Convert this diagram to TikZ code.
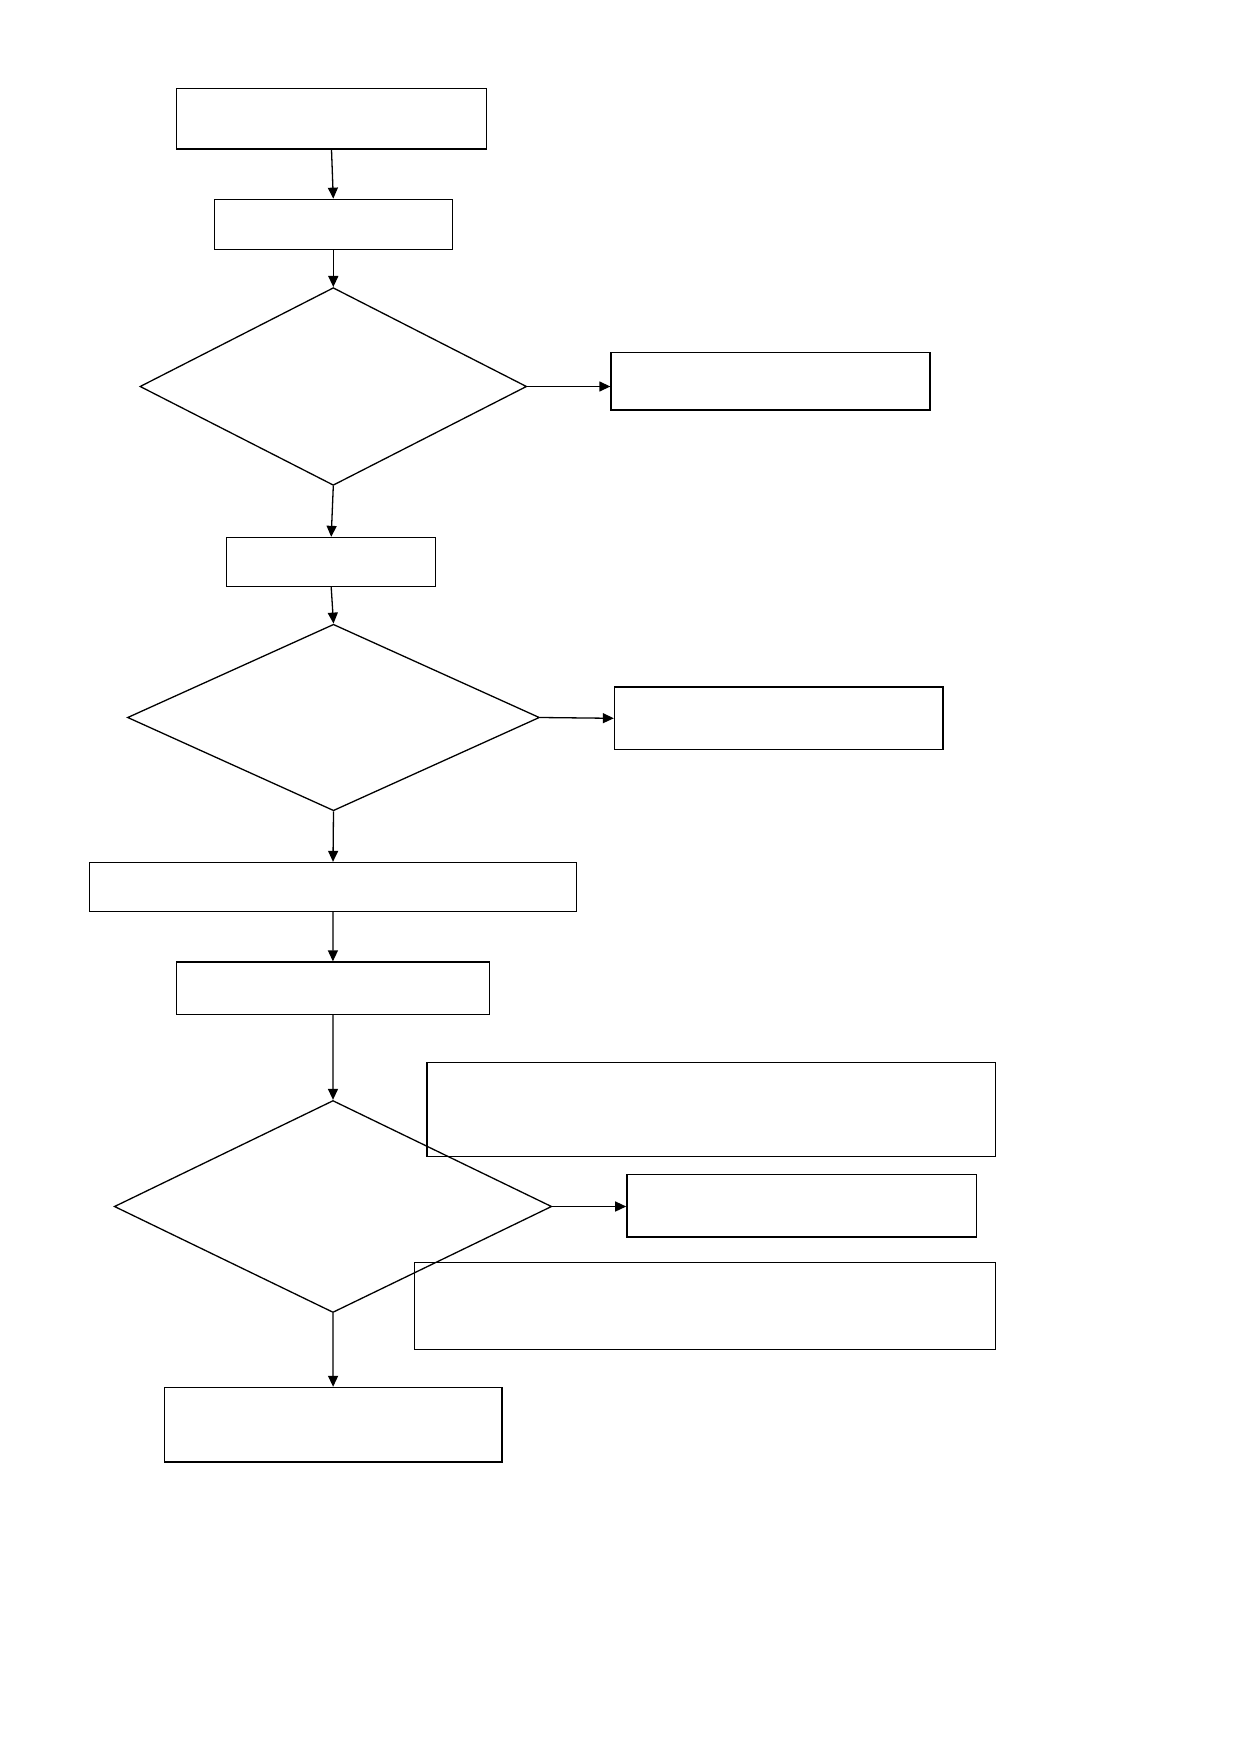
\documentclass[tikz,border=0pt]{standalone}
\usetikzlibrary{shapes.geometric,arrows.meta}
\begin{document}
\begin{tikzpicture}[x=1pt,y=-1pt,
  box/.style={draw,line width=1.3pt,inner sep=0pt,rectangle},
  dec/.style={draw,line width=1.3pt,inner sep=0pt,diamond},
  conn/.style={line width=1.3pt,-{Triangle[length=11pt,width=10pt]}}]
\useasboundingbox[fill=white] (0,0) rectangle (1239,1752);
\node[box,minimum width=310pt,minimum height=60.7pt] (b1) at (331.5,118.7) {};
\node[box,minimum width=238pt,minimum height=50pt] (b2) at (333.3,224.3) {};
\node[dec,minimum width=386.7pt,minimum height=197.7pt] (d1) at (333.3,386.5) {};
\node[box,minimum width=319pt,minimum height=57.3pt] (b3) at (770.5,381.3) {};
\node[box,minimum width=209pt,minimum height=49pt] (b4) at (331.2,562) {};
\node[dec,minimum width=412pt,minimum height=186.5pt] (d2) at (333.5,717.5) {};
\node[box,minimum width=328.5pt,minimum height=62.7pt] (b5) at (778.7,718.3) {};
\node[box,minimum width=487pt,minimum height=49pt] (b6) at (333,887) {};
\node[box,minimum width=312.8pt,minimum height=52.4pt] (b7) at (332.9,988.2) {};
\node[dec,minimum width=437.4pt,minimum height=212pt] (d3) at (333,1206.5) {};
\node[box,minimum width=568.7pt,minimum height=94pt] (b8) at (711.2,1109.5) {};
\node[box,minimum width=349.7pt,minimum height=62.8pt] (b9) at (801.7,1205.6) {};
\node[box,minimum width=581pt,minimum height=87pt] (b10) at (705,1306) {};
\node[box,minimum width=337.8pt,minimum height=74.5pt] (b11) at (333.1,1424.7) {};
\draw[conn] (b1.south) -- (b2.north);
\draw[conn] (b2.south) -- (d1.north);
\draw[conn] (d1.east) -- (d1.east -| b3.west);
\draw[conn] (d1.south) -- (b4.north);
\draw[conn] (b4.south) -- (d2.north);
\draw[conn] (d2.east) -- (b5.west);
\draw[conn] (d2.south) -- (b6.north);
\draw[conn] (b6.south) -- (b7.north);
\draw[conn] (b7.south) -- (d3.north);
\draw[conn] (d3.east) -- (d3.east -| b9.west);
\draw[conn] (d3.south) -- (b11.north);
\end{tikzpicture}
\end{document}
